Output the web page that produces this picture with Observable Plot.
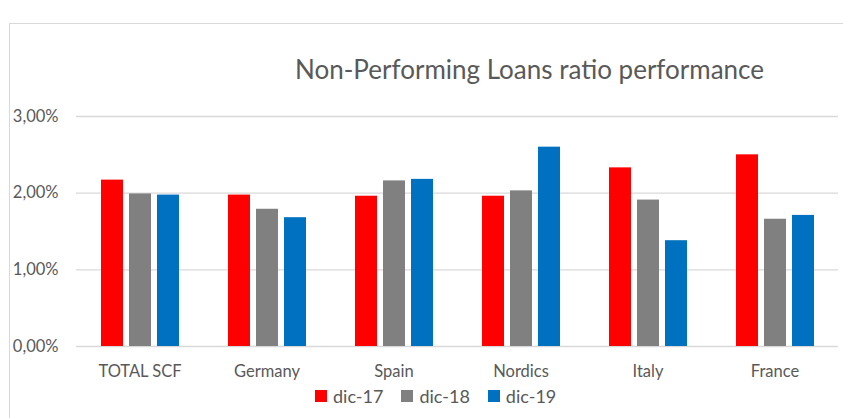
<!DOCTYPE html>
<html>
<head>
<meta charset="utf-8">
<script src="https://cdn.jsdelivr.net/npm/d3@7"></script>
<script src="https://cdn.jsdelivr.net/npm/@observablehq/plot@0.6"></script>
<style>
  html, body { margin: 0; padding: 0; background: #fff; overflow: hidden; }
  #wrap { position: relative; width: 843px; height: 418px; overflow: hidden; font-family: Lato, "Open Sans", sans-serif; color: #595959; }
  #frame { position: absolute; left: 9px; top: 23px; width: 900px; height: 500px; border: 1px solid #d9d9d9; box-sizing: border-box; }
  #title { position: absolute; left: 0; width: 843px; top: 53px; padding-left: 216px; box-sizing: border-box; text-align: center; font-size: 26px; white-space: nowrap; }
  #chart { position: absolute; left: 0; top: 100px; }
  #legend { position: absolute; left: 315px; top: 385px; display: flex; align-items: center; font-size: 18px; white-space: nowrap; }
  .item { display: flex; align-items: center; margin-right: 18px; }
  .sw { width: 12px; height: 12px; margin-right: 6px; }
</style>
</head>
<body>
<div id="wrap">
  <div id="frame"></div>
  <div id="title">Non-Performing Loans ratio performance</div>
  <div id="chart"></div>
  <div id="legend"></div>
</div>
<script>
const categories = ["TOTAL SCF", "Germany", "Spain", "Nordics", "Italy", "France"];
const series = ["dic-17", "dic-18", "dic-19"];
const dic17 = [2.17, 1.975, 1.96, 1.96, 2.33, 2.50];
const dic18 = [1.99, 1.79, 2.16, 2.03, 1.91, 1.66];
const dic19 = [1.975, 1.68, 2.18, 2.60, 1.38, 1.71];
const yTicks = [0, 1, 2, 3];
const colors = ["#ff0000", "#808080", "#0070c0"];

const seriesValues = [dic17, dic18, dic19];
const data = [];
categories.forEach((c, i) => {
  series.forEach((s, j) => data.push({category: c, series: s, value: seriesValues[j][i]}));
});

const fmt = d => d.toFixed(2).replace(".", ",") + "%";

const chart = Plot.plot({
  width: 843,
  height: 285,
  marginTop: 16,
  marginBottom: 39,
  marginLeft: 74,
  marginRight: 4,
  style: {fontFamily: "Lato, 'Open Sans', sans-serif", fontSize: "16.5px", color: "#595959", background: "transparent"},
  fx: {domain: categories, padding: 0, label: null, axis: "bottom", tickSize: 0, tickPadding: 19},
  x: {domain: series, axis: null, paddingInner: 0.22, paddingOuter: 0.865},
  y: {domain: [0, 3], ticks: yTicks, tickFormat: fmt, tickSize: 0, tickPadding: 18, label: null},
  color: {domain: series, range: colors},
  marks: [
    Plot.gridY(yTicks, {stroke: "#d9d9d9", strokeOpacity: 1, strokeWidth: 1.3}),
    Plot.barY(data, {fx: "category", x: "series", y: "value", fill: "series"})
  ]
});
document.getElementById("chart").appendChild(chart);

const legend = document.getElementById("legend");
series.forEach((s, j) => {
  const it = document.createElement("div");
  it.className = "item";
  const sw = document.createElement("div");
  sw.className = "sw";
  sw.style.background = colors[j];
  const t = document.createElement("span");
  t.textContent = s;
  it.appendChild(sw);
  it.appendChild(t);
  legend.appendChild(it);
});
</script>
</body>
</html>
